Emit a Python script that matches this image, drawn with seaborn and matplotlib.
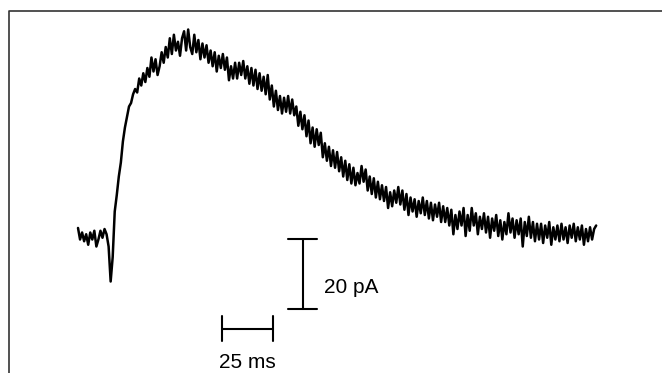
import numpy as np
import pandas as pd
import matplotlib
matplotlib.use("Agg")
import matplotlib.pyplot as plt
from matplotlib.lines import Line2D
import seaborn as sns

# sampled trace, 1 ms per point (current in pA)
dt_ms = 1.0
current_pA = [
    2.3, -1, 1, -1.5, 0.5, -2.5, 1, -1, 1.5, -3,
    -1, 1.5, -0.5, 2, 0.5, -3, -13, -6, 7, 11.7,
    17, 21, 27, 31, 34, 37, 38, 40.5, 42, 41,
    45, 43, 46.5, 44, 48, 45.5, 51, 47, 50.5, 46,
    48.5, 52.5, 49.5, 54, 51, 56.5, 52, 57.5, 53, 55.5,
    51.5, 56.5, 58.5, 53, 59, 54, 52, 57.5, 52.5, 56,
    50.5, 55, 51, 54.5, 49.5, 53, 48.5, 52.5, 47, 51.5,
    48, 52, 47.5, 51, 44.5, 48.5, 45, 49.5, 45, 49.5,
    46, 50, 45, 48.5, 43.5, 48, 43, 47.5, 42, 46.5,
    41.5, 45.5, 40.5, 46, 39, 43, 37, 41.5, 36, 40,
    35, 39.5, 35.5, 40, 35, 39, 34.5, 37, 31.5, 35.5,
    30.5, 34.5, 28.5, 33, 26.5, 31, 25.5, 30.5, 26, 29.5,
    22.5, 26.5, 21.5, 25.5, 20, 24.5, 19.5, 24, 18.5, 22.5,
    17, 21.5, 16, 20.5, 15, 19.5, 14.5, 18, 15, 20,
    15.5, 19, 13, 17, 12, 16.5, 11, 15.5, 10.5, 14.5,
    10, 14, 8, 12.5, 8.5, 13, 9.5, 14, 9, 13,
    7.5, 12, 6, 11, 7, 10.5, 5.5, 10, 6.5, 11,
    6, 10, 5, 9.5, 4.5, 9, 5.5, 9.5, 4, 8.5,
    4, 8, 3, 7.5, 0.5, 6, 2, 7, 3, 8,
    0, 6, 1.5, 8, 3, 6.5, 0.5, 5.5, 2, 6.5,
    1, 5.5, -0.5, 5, 1.5, 6, 0, 4.5, -1, 4,
    0.5, 6.5, 1, 5, -0.5, 4.5, 0.5, 5, -3, 4,
    0, 5.5, -0.5, 4, -1.5, 3.5, -1, 3.5, -2, 3,
    -0.5, 4, -2.5, 2.5, -1, 3, -1.5, 3.5, -1, 2.5,
    -2, 3, -0.5, 3.5, -1.5, 2.5, -1, 3, -2.5, 2,
    -1.5, 2.5, -1, 2, 3,
]
time_ms = np.arange(len(current_pA)) * dt_ms

# scale bars
bar_time_ms = 25
bar_time_label = "25 ms"
bar_current_pA = 20
bar_current_label = "20 pA"

df = pd.DataFrame({"time": time_ms, "current": current_pA})

sns.set_style("white")
plt.rcParams['font.family'] = ['Liberation Sans', 'DejaVu Sans']
plt.rcParams['text.color'] = 'black'

fig = plt.figure(figsize=(6.62, 3.73), dpi=100)
ax = fig.add_axes([0, 0, 1, 1])
sns.lineplot(data=df, x="time", y="current", color="black", linewidth=1.8, ax=ax)
ax.set_xlim(-38.24, 286.27)
ax.set_ylim(-39.14, 67.43)
ax.axis("off")

# horizontal scale bar (time)
hx0, hy = 70.6, -26.6
ax.plot([hx0, hx0 + bar_time_ms], [hy, hy], color="black", lw=1.5)
for xx in (hx0, hx0 + bar_time_ms):
    ax.plot([xx, xx], [hy + 3.7, hy - 3.5], color="black", lw=1.5)
ax.text(hx0 + bar_time_ms / 2, -36.2, bar_time_label, ha="center", va="center",
        fontsize=15, color="black")

# vertical scale bar (current)
vx, vy0 = 110.3, -20.9
ax.plot([vx, vx], [vy0, vy0 + bar_current_pA], color="black", lw=1.5)
for yy in (vy0, vy0 + bar_current_pA):
    ax.plot([vx - 7.2, vx + 7.0], [yy, yy], color="black", lw=1.5)
ax.text(120.6, -14.6, bar_current_label, ha="left", va="center", fontsize=15,
        color="black")

# panel frame (only left and top edges visible in crop)
fig.add_artist(Line2D([9 / 662, 9 / 662, 1.0], [0.0, 1 - 11 / 373, 1 - 11 / 373],
                      transform=fig.transFigure, color="#333333", lw=1.2))

fig.savefig("out.png", dpi=100)
